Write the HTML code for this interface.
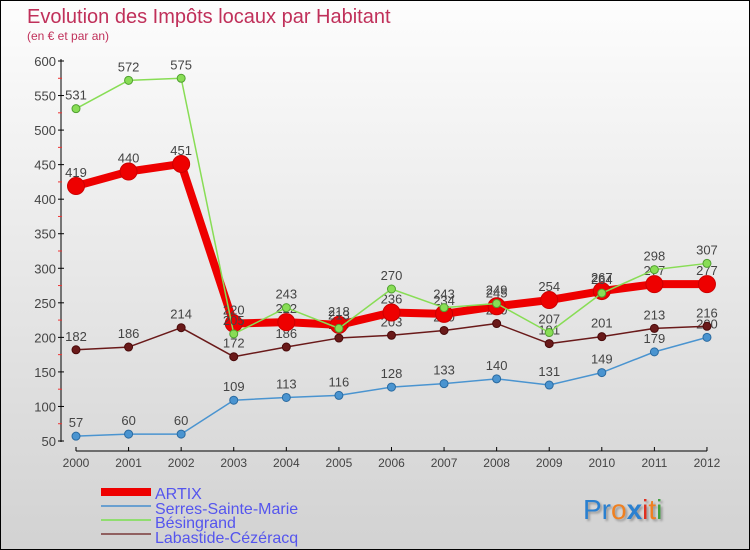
<!DOCTYPE html>
<html><head><meta charset="utf-8"><style>
body{margin:0}
#c{width:748px;height:548px;border:1px solid #000;position:relative;overflow:hidden;background:linear-gradient(#fdfdfd,#d2d2d2);font-family:"Liberation Sans",sans-serif}
</style></head><body>
<div id="c">
<svg width="748" height="548" id="s">
<text x="26" y="22" font-size="20" fill="#c0305a">Evolution des Impôts locaux par Habitant</text>
<text x="26" y="39" font-size="12" fill="#c0305a">(en € et par an)</text>
<g id="axes"></g><g id="series"></g>
<g>
<rect x="100" y="487" width="50" height="8" fill="#e00"/>
<line x1="100" y1="505" x2="150" y2="505" stroke="#6aa0d0" stroke-width="2"/>
<line x1="100" y1="519" x2="150" y2="519" stroke="#90dd70" stroke-width="2"/>
<line x1="100" y1="533" x2="150" y2="533" stroke="#906060" stroke-width="2"/>
<g font-size="16" fill="#5555ee">
<text x="154" y="498">ARTIX</text>
<text x="154" y="513">Serres-Sainte-Marie</text>
<text x="154" y="527">Bésingrand</text>
<text x="154" y="542">Labastide-Cézéracq</text>
</g></g>
<text x="582" y="518" font-size="28" style="text-shadow:2px 2px 2px #999"><tspan fill="#2a80d0">Pr</tspan><tspan fill="#f08020">o</tspan><tspan fill="#2a80d0" font-weight="bold">x</tspan><tspan fill="#e03020">i</tspan><tspan fill="#f08020">t</tspan><tspan fill="#40a040">i</tspan></text>
</svg></div>
<script>
const years=[2000,2001,2002,2003,2004,2005,2006,2007,2008,2009,2010,2011,2012];
const yTicks=[50,100,150,200,250,300,350,400,450,500,550,600];
const artix=[419,440,451,220,222,218,236,234,245,254,267,277,277];
const serres=[57,60,60,109,113,116,128,133,140,131,149,179,200];
const besingrand=[531,572,575,205,243,213,270,243,249,207,264,298,307];
const labastide=[182,186,214,172,186,199,203,210,220,191,201,213,216];
const NS="http://www.w3.org/2000/svg";
const X=i=>75+i*52.58, Y=v=>440-(v-50)*380/550;
function mk(t,a,p){const e=document.createElementNS(NS,t);for(const k in a)e.setAttribute(k,a[k]);p.appendChild(e);return e;}
const ax=document.getElementById('axes');
let a=mk('line',{x1:60,y1:58,x2:60,y2:441,stroke:'#000'},ax);


yTicks.forEach((v,i)=>{mk('line',{x1:57,x2:63,y1:Y(v),y2:Y(v),stroke:'#000'},ax);
 if(i<yTicks.length-1)mk('line',{x1:57,x2:61,y1:Y(v+25),y2:Y(v+25),stroke:'#e33'},ax);
 const t=mk('text',{x:55,y:Y(v)+5,'font-size':13,fill:'#444','text-anchor':'end'},ax);t.textContent=v;
 
 });
a=mk('line',{x1:75,y1:450,x2:706,y2:450,stroke:'#000'},ax);


years.forEach((y,i)=>{mk('line',{x1:X(i),x2:X(i),y1:446,y2:450,stroke:'#000'},ax);
 const t=mk('text',{x:X(i),y:466,'font-size':12,fill:'#444','text-anchor':'middle'},ax);t.textContent=y;
 
 });
const sg=document.getElementById('series');
function draw(d,col,w,r,name,dark){
 const g=mk('g',{},sg);
 
 
 mk('polyline',{points:d.map((v,i)=>X(i)+','+Y(v)).join(' '),fill:'none',stroke:col,'stroke-width':w,'stroke-linejoin':'round'},g);
 d.forEach((v,i)=>{const c=mk('circle',{cx:X(i),cy:Y(v),r:r,fill:col,stroke:dark,'stroke-width':1},g);
  
  
  const t=mk('text',{x:X(i),y:Y(v)-9,'font-size':13,fill:'#444','text-anchor':'middle'},g);t.textContent=v;
  
  });
}
draw(serres,'#4a94d0',1.5,4,'series-serres','#2a6aa0');
draw(labastide,'#6a1a1a',1.5,4,'series-labastide','#4a0a0a');
draw(artix,'#ee0000',8,8.5,'series-artix','#c00');
draw(besingrand,'#88dd55',1.5,4,'series-besingrand','#50a030');
</script>
</body></html>
